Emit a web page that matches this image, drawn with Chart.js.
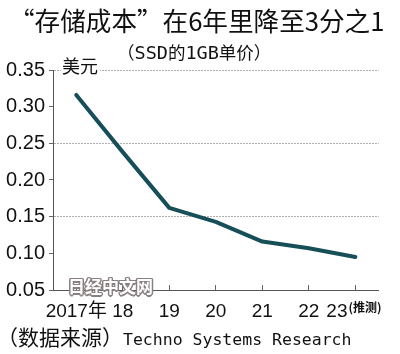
<!DOCTYPE html>
<html>
<head>
<meta charset="utf-8">
<script src="https://cdn.jsdelivr.net/npm/chart.js"></script>
<style>
  body { margin: 0; background: #fff; }
  #wrap { position: relative; width: 400px; height: 354px; overflow: hidden; }
  #chart { position: absolute; left: 0; top: 0; }
  .txt { position: absolute; white-space: nowrap; color: #111; font-family: "Noto Sans CJK SC", sans-serif; }
  .mono { font-family: "DejaVu Sans Mono", monospace; }
  #title { left: 9px; top: 6px; font-size: 25.6px; line-height: 28px; }
  #subtitle { left: 117px; top: 42px; font-size: 17.5px; line-height: 20px; }
  #subtitle .mono { font-size: 18.5px; }
  #unit { left: 61px; top: 56px; font-size: 18px; line-height: 18px; background: #fff; padding: 0 2px 0 1px; }
  #mark { left: 68px; top: 276px; font-size: 17px; line-height: 19px; font-weight: bold; color: #fff;
    text-shadow: 1.5px 0 #8a8082, -1.5px 0 #8a8082, 0 1.5px #8a8082, 0 -1.5px #8a8082,
                 1px 1px #8a8082, -1px -1px #8a8082, 1px -1px #8a8082, -1px 1px #8a8082; }
  #source { left: -3px; top: 324px; font-size: 21px; line-height: 24px; }
  #source .mono { font-size: 16.5px; }
</style>
</head>
<body>
<div id="wrap">
  <canvas id="chart" width="400" height="354"></canvas>
  <div class="txt" id="title">“存储成本”在6年里降至3分之1</div>
  <div class="txt" id="subtitle">（<span class="mono">SSD</span>的<span class="mono">1GB</span>单价）</div>
  <div class="txt" id="unit">美元</div>
  <div class="txt" id="mark">日经中文网</div>
  <div class="txt" id="source">（数据来源）<span class="mono">Techno Systems Research</span></div>
</div>
<script>
// Chart data
const years = ["2017年", "18", "19", "20", "21", "22", "23"];
const costPerGB = [0.316, 0.238, 0.162, 0.143, 0.116, 0.107, 0.095];
const forecastNote = "(推测)";
const yMin = 0.05;
const yMax = 0.35;
const yStep = 0.05;

const yFont = { family: "'Liberation Sans', 'Noto Sans CJK SC', sans-serif", size: 20 };
const xFont = { family: "'Liberation Sans', 'Noto Sans CJK SC', sans-serif", size: 19 };
const lastPad = "       ";

// Draws the small forecast note after the last year label
const notePlugin = {
  id: "forecastNote",
  afterDraw(chart) {
    const x = chart.scales.x;
    const ctx = chart.ctx;
    const i = years.length - 1;
    const label = years[i] + lastPad;
    ctx.save();
    ctx.font = `${xFont.size}px ${xFont.family}`;
    const start = x.getPixelForTick(i) - ctx.measureText(label).width / 2;
    const after = start + ctx.measureText(years[i]).width + 1;
    ctx.font = "bold 12px 'Noto Sans CJK SC', sans-serif";
    ctx.fillStyle = "#111";
    ctx.textBaseline = "middle";
    ctx.fillText(forecastNote, after, 307);
    ctx.restore();
  },
};

function main() {
  const ctx = document.getElementById("chart").getContext("2d");
  new Chart(ctx, {
    type: "line",
    data: {
      labels: years,
      datasets: [
        {
          data: costPerGB,
          borderColor: "#174f58",
          borderWidth: 4,
          borderCapStyle: "round",
          borderJoinStyle: "round",
          pointRadius: 0,
          tension: 0,
        },
      ],
    },
    options: {
      responsive: false,
      animation: false,
      events: [],
      layout: { padding: { top: 70, right: 8, left: 0, bottom: 0 } },
      plugins: { legend: { display: false }, tooltip: { enabled: false } },
      scales: {
        x: {
          offset: true,
          afterFit: (s) => { s.height = 64; },
          grid: { drawOnChartArea: false, tickLength: -5, color: "#666", tickColor: "#666" },
          border: { color: "#555", width: 1 },
          ticks: {
            font: xFont,
            color: "#111",
            padding: 15,
            maxRotation: 0,
            autoSkip: false,
            callback: (v, i) => (i === years.length - 1 ? years[i] + lastPad : years[i]),
          },
        },
        y: {
          min: yMin,
          max: yMax,
          afterFit: (s) => { s.width = 53; },
          grid: {
            color: (c) => (c.index % 2 === 0 && c.index > 0 ? "#b0b0b0" : "rgba(0,0,0,0)"),
            tickColor: "#666",
            tickLength: 4,
            tickBorderDash: [],
          },
          border: { color: "#555", width: 1, dash: [2, 1] },
          ticks: {
            stepSize: yStep,
            font: yFont,
            color: "#111",
            padding: 4,
            callback: (v) => v.toFixed(2),
          },
        },
      },
    },
    plugins: [notePlugin],
  });
}

main();
</script>
</body>
</html>
